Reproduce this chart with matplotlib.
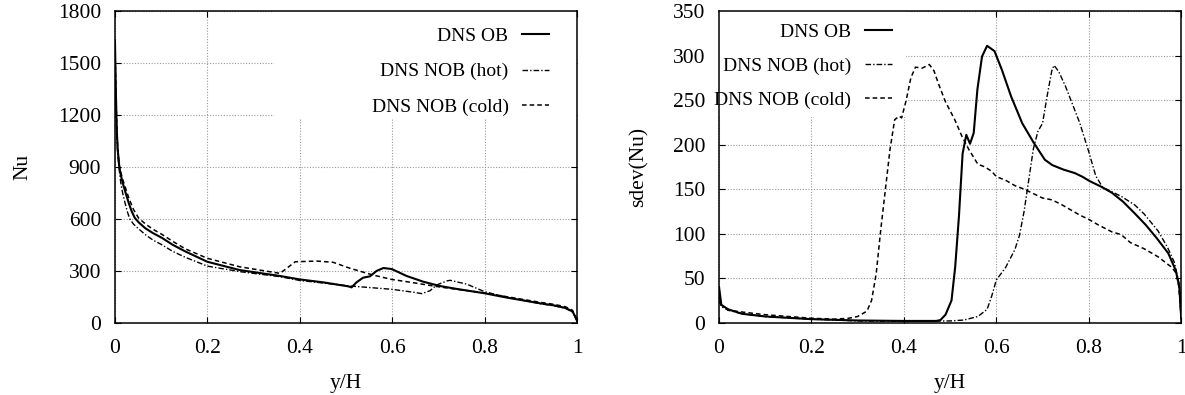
import matplotlib
matplotlib.use("Agg")
import matplotlib.pyplot as plt
from matplotlib.patches import Rectangle

plt.rcParams["font.family"] = ["Liberation Serif", "DejaVu Serif"]

# ---- left panel: Nu along the wall ----
nu_ob_x = [0, 0.002, 0.004, 0.006, 0.0094, 0.013, 0.017, 0.022, 0.03, 0.036,
           0.043, 0.052, 0.066, 0.082, 0.1017, 0.125, 0.152, 0.2, 0.27, 0.357,
           0.4, 0.451, 0.505, 0.512, 0.523, 0.537, 0.552, 0.566, 0.581, 0.599,
           0.631, 0.667, 0.703, 0.74, 0.8, 0.844, 0.92, 0.95, 0.975, 0.99,
           0.995, 1.0]
nu_ob = [1630, 1330, 1110, 1000, 900, 850, 805, 760, 690, 645,
         605, 578, 545, 518, 490, 450, 412, 352, 304, 270,
         250, 233, 210, 204, 234, 260, 268, 299, 316, 310,
         270, 237, 212, 195, 170, 147, 112, 100, 85, 65,
         40, 10]

nu_hot_x = [0, 0.002, 0.004, 0.006, 0.0094, 0.013, 0.017, 0.022, 0.027, 0.032,
            0.04, 0.05, 0.066, 0.082, 0.1017, 0.125, 0.152, 0.2, 0.27, 0.357,
            0.4, 0.509, 0.599, 0.646, 0.664, 0.682, 0.696, 0.718, 0.725, 0.761,
            0.8, 0.844, 0.92, 0.95, 0.975, 0.99, 0.995, 1.0]
nu_hot = [1600, 1300, 1080, 975, 880, 800, 745, 690, 640, 600,
          570, 545, 508, 478, 450, 412, 378, 327, 295, 266,
          244, 212, 193, 176, 168, 185, 218, 241, 245, 223,
          179, 150, 110, 98, 83, 62, 38, 8]

nu_cold_x = [0, 0.002, 0.004, 0.006, 0.0094, 0.013, 0.017, 0.022, 0.03, 0.04,
             0.051, 0.066, 0.082, 0.1017, 0.125, 0.152, 0.2, 0.27, 0.357, 0.372,
             0.39, 0.437, 0.472, 0.509, 0.559, 0.599, 0.646, 0.689, 0.72, 0.8,
             0.844, 0.92, 0.95, 0.975, 0.99, 0.995, 1.0]
nu_cold = [1620, 1340, 1120, 1010, 910, 865, 825, 785, 720, 655,
           605, 570, 540, 510, 470, 427, 372, 323, 285, 315,
           352, 356, 349, 314, 275, 250, 231, 212, 200, 172,
           152, 118, 106, 92, 72, 45, 10]

# ---- right panel: standard deviation of Nu ----
sd_ob_x = [0, 0.005, 0.02, 0.05, 0.1, 0.2, 0.3, 0.4, 0.47, 0.479, 0.49, 0.503,
           0.511, 0.519, 0.527, 0.535, 0.543, 0.551, 0.559, 0.569, 0.58, 0.596,
           0.612, 0.632, 0.656, 0.681, 0.705, 0.721, 0.745, 0.77, 0.786, 0.802,
           0.826, 0.85, 0.874, 0.899, 0.923, 0.947, 0.972, 0.988, 0.996, 1.0]
sd_ob = [40, 20, 15, 10, 7, 4, 2.5, 2, 2, 3, 9, 25,
         63, 119, 190, 211, 201, 213, 262, 299, 311, 305,
         284, 254, 224, 202, 183, 177, 172, 168, 164, 159,
         153, 146, 136, 123, 110, 95, 78, 59, 40, 5]

sd_hot_x = [0, 0.005, 0.02, 0.05, 0.1, 0.2, 0.3, 0.4, 0.5, 0.53, 0.56, 0.58,
            0.59, 0.6, 0.62, 0.64, 0.65, 0.66, 0.67, 0.68, 0.69, 0.7, 0.71,
            0.72, 0.725, 0.735, 0.75, 0.765, 0.78, 0.8, 0.815, 0.83, 0.85,
            0.87, 0.9, 0.92, 0.95, 0.97, 0.985, 0.995, 1.0]
sd_hot = [25, 18, 14, 10, 7, 4, 2, 1.5, 2, 3, 7, 15,
          30, 48, 62, 82, 98, 125, 160, 195, 215, 224, 255,
          283, 289, 282, 265, 245, 225, 192, 165, 152, 147,
          142, 132, 122, 103, 85, 68, 45, 5]

sd_cold_x = [0, 0.005, 0.02, 0.05, 0.1, 0.15, 0.2, 0.25, 0.28, 0.3, 0.32, 0.33,
             0.34, 0.35, 0.36, 0.37, 0.38, 0.39, 0.395, 0.405, 0.415, 0.425,
             0.44, 0.455, 0.465, 0.475, 0.49, 0.51, 0.525, 0.54, 0.56, 0.575,
             0.59, 0.6, 0.62, 0.64, 0.66, 0.68, 0.7, 0.72, 0.74, 0.76, 0.78,
             0.8, 0.82, 0.85, 0.87, 0.89, 0.92, 0.95, 0.98, 0.99, 0.995, 1.0]
sd_cold = [30, 20, 14, 12, 9, 7, 5, 4, 5, 7, 13, 25,
           55, 105, 150, 195, 228, 232, 230, 250, 275, 287,
           286, 290, 283, 268, 248, 228, 210, 195, 178, 175,
           170, 164, 160, 154, 150, 145, 140, 138, 133, 127, 121,
           116, 110, 102, 99, 90, 83, 74, 62, 55, 40, 5]

labels = ["DNS OB", "DNS NOB (hot)", "DNS NOB (cold)"]
x_ticks = [0, 0.2, 0.4, 0.6, 0.8, 1]
x_ticklabels = ["0", "0.2", "0.4", "0.6", "0.8", "1"]
nu_ticks = [0, 300, 600, 900, 1200, 1500, 1800]
sd_ticks = [0, 50, 100, 150, 200, 250, 300, 350]

styles = [
    dict(color="black", lw=1.5, ls="-"),
    dict(color="black", lw=1.0, dashes=(4, 1.5, 1, 1.5)),
    dict(color="black", lw=1.1, dashes=(3, 2)),
]


def style_axes(ax, yticks, ylabel, ylabelpad):
    ax.set_xlim(0, 1)
    ax.set_ylim(yticks[0], yticks[-1])
    ax.set_xticks(x_ticks)
    ax.set_xticklabels(x_ticklabels)
    ax.set_yticks(yticks)
    ax.set_axisbelow(True)
    ax.grid(True, color="#9a9a9a", lw=0.8, dashes=(1, 1.5))
    ax.tick_params(direction="in", top=True, right=True, length=4.5,
                   width=0.8, labelsize=15.5)
    ax.tick_params(axis="x", pad=12)
    ax.tick_params(axis="y", pad=10)
    for s in ax.spines.values():
        s.set_linewidth(1.1)
    ax.set_xlabel("y/H", fontsize=15.5, labelpad=11)
    ax.set_ylabel(ylabel, fontsize=15.5, labelpad=ylabelpad)


fig = plt.figure(figsize=(11.85, 3.95), dpi=100)
ax1 = fig.add_axes([0.097, 0.183, 0.39, 0.789])
ax2 = fig.add_axes([0.6068, 0.183, 0.39, 0.789])

for x, y, lab, st in zip([nu_ob_x, nu_hot_x, nu_cold_x], [nu_ob, nu_hot, nu_cold],
                         labels, styles):
    ax1.plot(x, y, label=lab, zorder=2, **st)
for x, y, lab, st in zip([sd_ob_x, sd_hot_x, sd_cold_x], [sd_ob, sd_hot, sd_cold],
                         labels, styles):
    ax2.plot(x, y, label=lab, zorder=2, **st)

style_axes(ax1, nu_ticks, "Nu", 18)
style_axes(ax2, sd_ticks, "sdev(Nu)", 17)

# opaque key area like the gnuplot original
ax1.add_patch(Rectangle((0.344, 0.658), 0.656, 0.342, transform=ax1.transAxes,
                        facecolor="white", edgecolor="none", zorder=1))
ax2.add_patch(Rectangle((0.0, 0.661), 0.405, 0.339, transform=ax2.transAxes,
                        facecolor="white", edgecolor="none", zorder=1))

leg_kw = dict(frameon=False, markerfirst=False, borderpad=0, handlelength=1.4,
              handletextpad=0.7, fontsize=14, loc="upper right",
              borderaxespad=0)
ax1.legend(bbox_to_anchor=(0.940, 0.948), labelspacing=0.92, **leg_kw)
ax2.legend(bbox_to_anchor=(0.374, 0.962), labelspacing=0.85, **leg_kw)

fig.savefig("out.png", dpi=100)
